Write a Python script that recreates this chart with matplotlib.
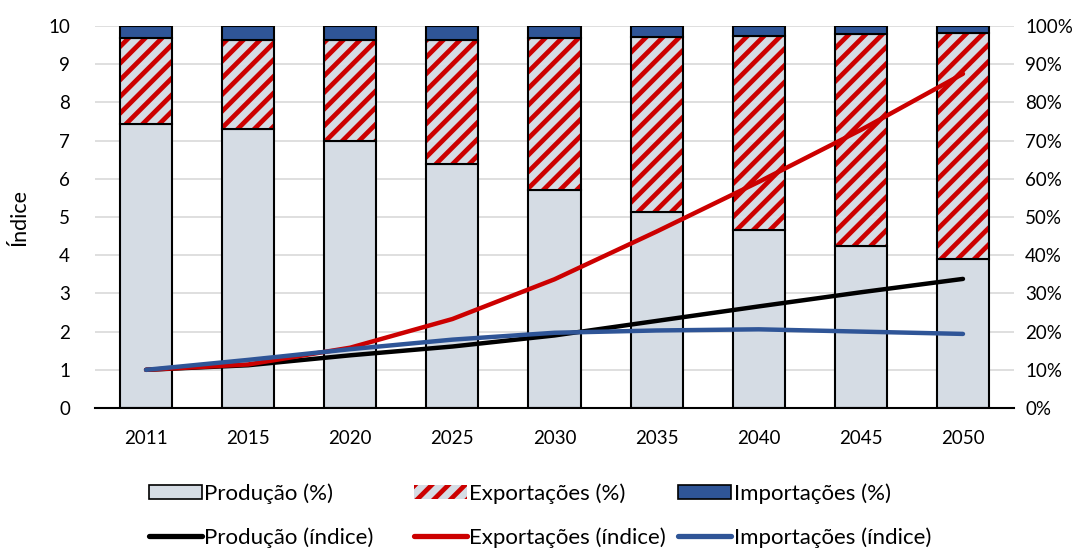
import matplotlib
matplotlib.use("Agg")
import matplotlib.pyplot as plt
from matplotlib.patches import Patch
from matplotlib.lines import Line2D
import numpy as np

years = ["2011", "2015", "2020", "2025", "2030", "2035", "2040", "2045", "2050"]
prod_pct = [74.3, 73.1, 70.0, 63.8, 57.1, 51.4, 46.6, 42.4, 39.0]
exp_cum_pct = [96.9, 96.4, 96.3, 96.4, 96.8, 97.1, 97.5, 97.9, 98.2]
exp_pct = [e - p for e, p in zip(exp_cum_pct, prod_pct)]
imp_pct = [100 - e for e in exp_cum_pct]

prod_idx = [1.0, 1.12, 1.38, 1.61, 1.90, 2.28, 2.66, 3.03, 3.38]
exp_idx = [1.0, 1.14, 1.58, 2.33, 3.37, 4.62, 5.92, 7.28, 8.75]
imp_idx = [1.0, 1.26, 1.54, 1.79, 1.97, 2.03, 2.06, 2.00, 1.94]

C_PROD = "#D5DCE4"
C_EXP = "#CC0000"
C_IMP = "#2F5597"

plt.rcParams["font.family"] = ["Lato", "DejaVu Sans"]
plt.rcParams["hatch.linewidth"] = 3.4

fig = plt.figure(figsize=(10.92, 5.49), dpi=100)
ax = fig.add_axes([0.087, 0.2568, 0.8416, 0.6958])
ax2 = ax.twinx()

x = np.arange(len(years))
w = 0.51

# bars on right axis (percent)
ax2.bar(x, prod_pct, w, color=C_PROD, edgecolor="black", linewidth=1.5, zorder=2)
ax2.bar(x, exp_pct, w, bottom=prod_pct, color=C_PROD, edgecolor=C_EXP, hatch="//",
        linewidth=0, zorder=2)
ax2.bar(x, exp_pct, w, bottom=prod_pct, facecolor="none", edgecolor="black", linewidth=1.5, zorder=3)
ax2.bar(x, imp_pct, w, bottom=exp_cum_pct, color=C_IMP, edgecolor="black", linewidth=1.5, zorder=3)
ax2.set_ylim(0, 100)
ax2.set_yticks(np.arange(0, 101, 10))
ax2.set_yticklabels([f"{v}%" for v in range(0, 101, 10)])

# lines on the left axis - drawn above bars
ax.set_zorder(ax2.get_zorder() + 1)
ax.patch.set_visible(False)
ax.plot(x, prod_idx, color="black", lw=3.2, solid_capstyle="round", zorder=5)
ax.plot(x, exp_idx, color=C_EXP, lw=3.2, solid_capstyle="round", zorder=5)
ax.plot(x, imp_idx, color=C_IMP, lw=3.2, solid_capstyle="round", zorder=5)
ax.set_ylim(0, 10)
ax.set_yticks(range(0, 11))
ax.set_xlim(-0.5, len(years) - 0.5)
ax.set_xticks(x)
ax.set_xticklabels(years)
ax.set_ylabel("Índice", fontsize=15.5)
ax.yaxis.set_label_coords(-0.071, 0.5)

ax2.set_axisbelow(True)
ax2.yaxis.grid(True, color="#D9D9D9", lw=1.2, zorder=0)

for a in (ax, ax2):
    for s in ("left", "right", "top"):
        a.spines[s].set_visible(False)
    a.tick_params(length=0, labelsize=13.5, pad=8)
ax.spines["bottom"].set_linewidth(1.5)
ax2.spines["bottom"].set_visible(False)
ax.tick_params(axis="x", pad=16)
ax.tick_params(axis="y", pad=18)

# legends - three columns, two rows
cols = [
    (Patch(facecolor=C_PROD, edgecolor="black", lw=1.2), "Produção (%)",
     Line2D([], [], color="black", lw=3.8, solid_capstyle="round"), "Produção (índice)", 0.136),
    (Patch(facecolor=C_PROD, edgecolor=C_EXP, hatch="//", lw=0), "Exportações (%)",
     Line2D([], [], color=C_EXP, lw=3.8, solid_capstyle="round"), "Exportações (índice)", 0.379),
    (Patch(facecolor=C_IMP, edgecolor="black", lw=1.2), "Importações (%)",
     Line2D([], [], color=C_IMP, lw=3.8, solid_capstyle="round"), "Importações (índice)", 0.621),
]
for h1, l1, h2, l2, xpos in cols:
    fig.legend([h1, h2], [l1, l2], loc="upper left", bbox_to_anchor=(xpos, 0.12),
               bbox_transform=fig.transFigure, frameon=False, fontsize=16,
               handlelength=2.4, handleheight=0.63, handletextpad=0.1, labelspacing=1.05,
               borderaxespad=0, borderpad=0)

fig.savefig("out.png", dpi=100)
